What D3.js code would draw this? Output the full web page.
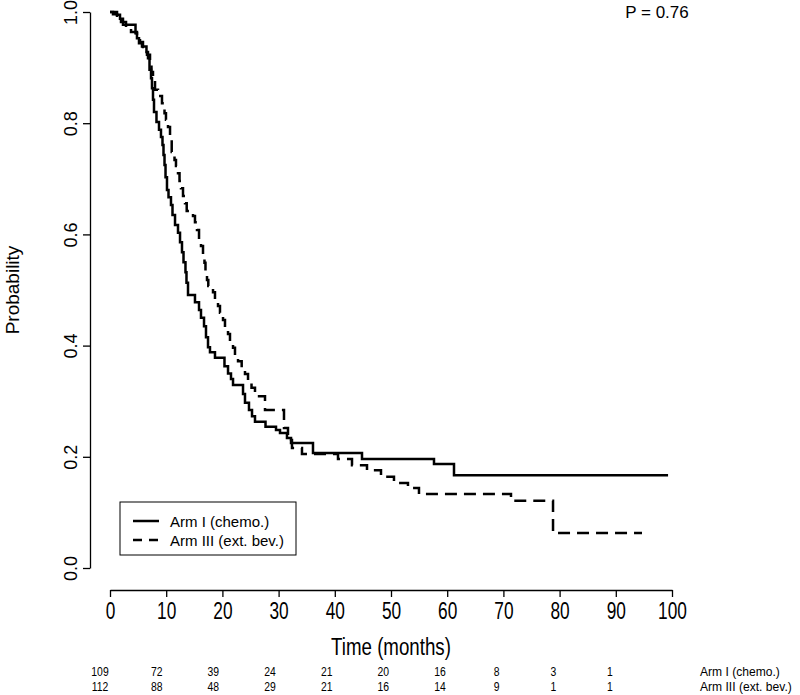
<!DOCTYPE html>
<html>
<head>
<meta charset="utf-8">
<script src="https://cdn.jsdelivr.net/npm/d3@7"></script>
<style>
  html, body { margin: 0; padding: 0; background: #fff; }
  svg { display: block; font-family: "Liberation Sans", Arial, sans-serif; }
</style>
</head>
<body>
<svg id="chart" width="800" height="695"></svg>
<script>
// ---- data ----
const timeTicks = [0, 10, 20, 30, 40, 50, 60, 70, 80, 90, 100];
const probTicks = [0, 0.2, 0.4, 0.6, 0.8, 1.0];
const riskTimes = [0, 10, 20, 30, 40, 50, 60, 70, 80, 90];
const riskArm1 = [109, 72, 39, 24, 21, 20, 16, 8, 3, 1];
const riskArm3 = [112, 88, 48, 29, 21, 16, 14, 9, 1, 1];
const groupLabels = ["Arm I (chemo.)", "Arm III (ext. bev.)"];
const pLabel = "P = 0.76";

const arm1Times = [0, 1.25, 1.78, 2.31, 4.54, 4.80, 5.16, 5.69, 6.49, 6.76, 7.03, 7.30, 7.47, 7.65, 7.83, 8.27, 8.72, 9.07, 9.34, 9.52, 9.70, 9.88, 10.14, 10.41, 10.85, 11.12, 11.57, 12.10, 12.46, 12.81, 13.08, 13.43, 13.61, 13.88, 15.12, 15.84, 16.19, 16.73, 17.08, 17.44, 17.79, 18.68, 20.37, 21.00, 21.53, 21.89, 23.67, 24.02, 24.73, 25.27, 25.80, 27.67, 29.54, 30.25, 31.49, 32.21, 36.12, 44.84, 57.65, 61.21, 99.3];
const arm1Surv = [1, 0.995, 0.988, 0.977, 0.962, 0.953, 0.944, 0.938, 0.928, 0.917, 0.896, 0.881, 0.863, 0.842, 0.820, 0.802, 0.788, 0.775, 0.761, 0.743, 0.725, 0.703, 0.680, 0.667, 0.653, 0.635, 0.617, 0.603, 0.586, 0.568, 0.550, 0.532, 0.513, 0.491, 0.478, 0.464, 0.450, 0.435, 0.415, 0.397, 0.388, 0.378, 0.363, 0.350, 0.340, 0.329, 0.313, 0.297, 0.284, 0.273, 0.263, 0.254, 0.248, 0.243, 0.234, 0.225, 0.207, 0.196, 0.187, 0.167, 0.167];

const arm3Times = [0, 0.53, 1.25, 1.96, 2.85, 3.74, 4.80, 5.34, 5.87, 6.58, 7.12, 7.38, 7.65, 8.01, 8.54, 9.25, 9.70, 9.96, 10.32, 10.68, 10.98, 11.48, 11.74, 12.10, 12.37, 12.63, 12.99, 13.35, 13.65, 14.77, 15.12, 15.48, 15.84, 16.19, 16.55, 16.81, 16.99, 17.26, 17.49, 18.33, 18.68, 19.22, 19.57, 20.11, 20.46, 21.00, 21.35, 21.89, 22.24, 22.78, 23.43, 24.02, 24.56, 25.18, 25.80, 27.58, 30.96, 31.67, 32.38, 34.16, 40.57, 43.06, 45.73, 48.22, 50.53, 53.02, 54.98, 71.35, 78.83, 94.66];
const arm3Surv = [1, 0.996, 0.989, 0.982, 0.973, 0.964, 0.955, 0.946, 0.937, 0.923, 0.908, 0.892, 0.878, 0.860, 0.849, 0.836, 0.818, 0.806, 0.793, 0.777, 0.748, 0.734, 0.723, 0.710, 0.696, 0.683, 0.669, 0.656, 0.642, 0.633, 0.622, 0.608, 0.594, 0.579, 0.563, 0.549, 0.532, 0.518, 0.507, 0.496, 0.482, 0.471, 0.459, 0.446, 0.433, 0.421, 0.408, 0.396, 0.383, 0.372, 0.360, 0.349, 0.338, 0.324, 0.309, 0.284, 0.252, 0.230, 0.216, 0.205, 0.196, 0.185, 0.176, 0.164, 0.153, 0.144, 0.133, 0.121, 0.063, 0.063];

// ---- layout ----
const svg = d3.select("#chart");
svg.append("rect").attr("width", 800).attr("height", 695).attr("fill", "#fff");

const x = d3.scaleLinear().domain([0, 100]).range([110, 672]);
const y = d3.scaleLinear().domain([0, 1]).range([568, 12]);
const riskX = d3.scaleLinear().domain([0, 90]).range([100, 610]);

// curves
const line = d3.line().x(d => x(d[0])).y(d => y(d[1])).curve(d3.curveStepAfter);
const arm1 = arm1Times.map((t, i) => [t, arm1Surv[i]]);
const arm3 = arm3Times.map((t, i) => [t, arm3Surv[i]]);

svg.append("path").datum(arm3).attr("d", line)
  .attr("fill", "none").attr("stroke", "#000").attr("stroke-width", 2.5)
  .attr("stroke-dasharray", "12,7");
svg.append("path").datum(arm1).attr("d", line)
  .attr("fill", "none").attr("stroke", "#000").attr("stroke-width", 2.5);

// x axis
const xAxis = svg.append("g").attr("transform", "translate(0,590)")
  .call(d3.axisBottom(x).tickValues(timeTicks).tickSize(7).tickSizeOuter(0));
xAxis.select(".domain").attr("stroke-width", 1.3);
xAxis.selectAll(".tick line").attr("stroke-width", 1.3);
xAxis.selectAll(".tick text")
  .attr("y", 29).attr("dy", null)
  .attr("font-size", 24).attr("font-family", "Liberation Sans, Arial, sans-serif")
  .attr("fill", "#000")
  .attr("transform", "scale(0.72,1)");

// y axis
const yAxis = svg.append("g").attr("transform", "translate(90,0)")
  .call(d3.axisLeft(y).tickValues(probTicks).tickSize(7).tickSizeOuter(0).tickFormat(d3.format(".1f")));
yAxis.select(".domain").attr("stroke-width", 1.3);
yAxis.selectAll(".tick line").attr("stroke-width", 1.3);
yAxis.selectAll(".tick text")
  .attr("x", 0).attr("y", -13).attr("dy", null)
  .attr("text-anchor", "middle")
  .attr("transform", "rotate(-90)")
  .attr("font-size", 18).attr("font-family", "Liberation Sans, Arial, sans-serif")
  .attr("fill", "#000");

// axis titles
svg.append("text").attr("transform", "translate(19,290) rotate(-90)")
  .attr("text-anchor", "middle").attr("font-size", 19).text("Probability");
svg.append("text").attr("transform", "translate(391,655) scale(0.78,1)")
  .attr("text-anchor", "middle").attr("font-size", 24).text("Time (months)");

// P value
svg.append("text").attr("x", 657).attr("y", 18).attr("text-anchor", "middle")
  .attr("font-size", 17).text(pLabel);

// legend
const lg = svg.append("g");
lg.append("rect").attr("x", 120).attr("y", 502).attr("width", 176).attr("height", 53)
  .attr("fill", "#fff").attr("stroke", "#000").attr("stroke-width", 1);
lg.append("line").attr("x1", 133).attr("x2", 159).attr("y1", 521).attr("y2", 521)
  .attr("stroke", "#000").attr("stroke-width", 2.5);
lg.append("line").attr("x1", 133).attr("x2", 159).attr("y1", 540).attr("y2", 540)
  .attr("stroke", "#000").attr("stroke-width", 2.5).attr("stroke-dasharray", "9,7");
lg.selectAll("text.lab").data(groupLabels).join("text")
  .attr("x", 170).attr("y", (d, i) => 527 + i * 19)
  .attr("font-size", 15).text(d => d);

// number at risk table
const rows = [riskArm1, riskArm3];
rows.forEach((row, r) => {
  const yy = 676 + r * 15;
  svg.append("g").selectAll("text").data(row).join("text")
    .attr("transform", (d, i) => `translate(${riskX(riskTimes[i])},${yy}) scale(0.8,1)`)
    .attr("text-anchor", "middle").attr("font-size", 13).text(d => d);
  svg.append("text").attr("transform", `translate(700,${yy}) scale(0.93,1)`)
    .attr("font-size", 13).text(groupLabels[r]);
});
</script>
</body>
</html>
